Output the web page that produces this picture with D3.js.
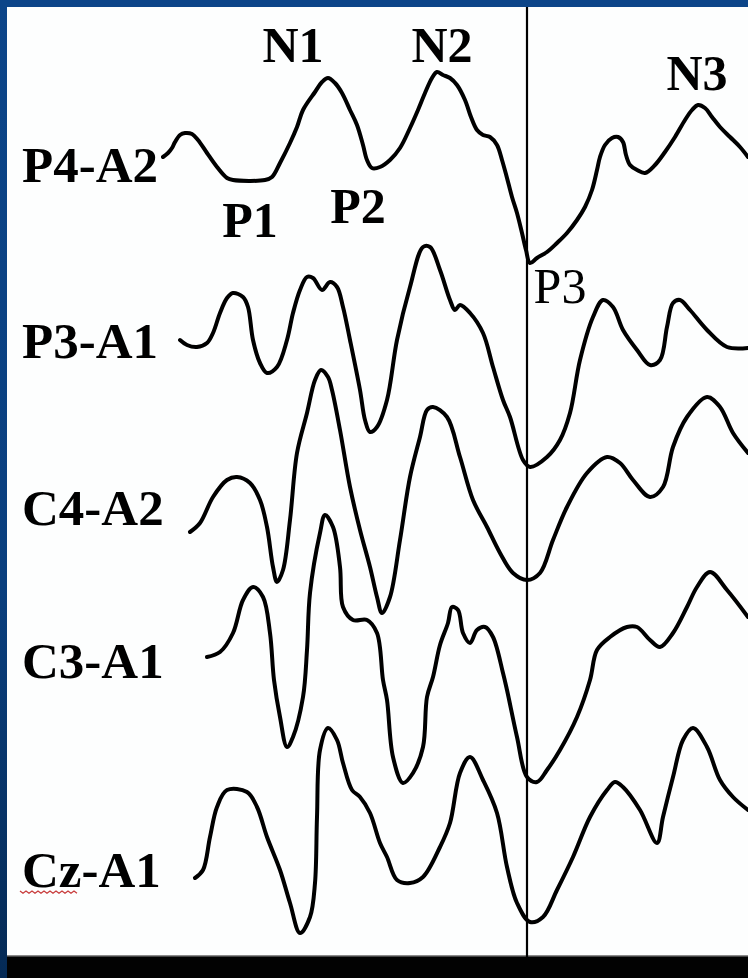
<!DOCTYPE html>
<html>
<head>
<meta charset="utf-8">
<script src="https://cdn.jsdelivr.net/npm/d3@7"></script>
<style>
  html, body { margin: 0; padding: 0; background: #0a3f7e; }
  svg { display: block; }
</style>
</head>
<body>
<svg id="chart" width="748" height="978"></svg>
<script>
// ---------- DATA ----------
const channels = ["P4-A2", "P3-A1", "C4-A2", "C3-A1", "Cz-A1"];

// time (ms) samples and amplitudes (arbitrary units, positive = up) for each channel
const p4a2 = [[6,1.3],[11,1.7],[15,2.2],[18,2.8],[23,3.5],[28,3.7],[35,3.6],[41,3.0],[50,1.7],[60,0.3],[70,-0.8],[76,-1.0],[108,-1.0],[115,-0.7],[123,0.7],[133,2.7],[140,4.3],[146,6.0],[158,7.8],[165,8.8],[171,9.2],[178,8.7],[185,7.7],[193,6.0],[200,4.5],[206,2.5],[210,1.0],[215,0.2],[223,0.3],[233,1.0],[243,2.2],[253,4.2],[261,6.0],[268,7.7],[275,9.2],[280,9.8],[286,9.5],[293,9.2],[300,8.5],[308,7.0],[314,5.3],[320,4.0],[326,3.5],[333,3.3],[340,2.5],[345,1.0],[350,-0.8],[355,-2.7],[360,-4.3],[365,-6.3],[369,-8.0],[373,-9.3],[380,-8.8],[390,-8.2],[400,-7.3],[410,-6.3],[420,-5.0],[428,-3.7],[435,-2.0],[440,0.0],[443,1.3],[448,2.5],[455,3.2],[461,3.3],[466,2.8],[469,1.5],[473,0.5],[480,0.0],[488,-0.3],[498,0.5],[508,1.8],[518,3.3],[528,5.0],[535,6.0],[541,6.5],[548,6.2],[555,5.3],[563,4.3],[573,3.3],[583,2.3],[591,1.3]];

const p3a1 = [[23,-0.5],[30,-1.0],[40,-1.2],[50,-0.8],[56,0.2],[63,2.2],[70,3.7],[76,4.2],[86,3.8],[91,2.8],[96,-0.5],[103,-2.8],[110,-3.8],[120,-3.2],[130,-0.5],[136,2.2],[143,4.5],[150,5.8],[156,5.7],[165,4.5],[173,5.3],[180,4.8],[186,2.8],[193,-0.5],[203,-5.5],[208,-8.5],[213,-9.7],[220,-9.2],[230,-6.5],[240,-0.5],[253,4.8],[266,8.8],[273,8.8],[283,6.5],[293,3.5],[298,2.5],[303,3.0],[313,2.2],[326,0.2],[336,-3.2],[346,-6.5],[353,-8.2],[366,-12.5],[373,-13.2],[390,-12.2],[403,-10.5],[413,-7.8],[423,-2.5],[436,1.8],[446,3.5],[456,2.8],[466,0.5],[480,-1.5],[493,-3.0],[503,-2.5],[510,0.8],[516,3.2],[523,3.5],[533,2.5],[550,0.5],[570,-1.2],[591,-1.3]];

const c4a2 = [[33,-3.2],[43,-2.3],[56,0.3],[70,2.0],[80,2.3],[93,1.7],[103,0.0],[110,-2.7],[116,-6.7],[120,-8.2],[126,-7.0],[133,-2.0],[140,4.7],[150,8.7],[158,12.0],[164,13.0],[171,12.3],[175,11.0],[183,7.0],[193,1.3],[203,-3.0],[213,-6.7],[220,-9.7],[225,-11.3],[233,-9.7],[243,-4.0],[253,2.3],[263,6.3],[270,9.0],[276,9.3],[290,8.3],[303,4.3],[316,0.0],[330,-2.7],[343,-5.3],[356,-7.3],[370,-8.0],[383,-7.3],[396,-4.0],[410,-0.7],[430,2.7],[450,4.3],[463,3.7],[476,2.0],[493,0.3],[506,1.3],[516,5.3],[530,8.3],[550,10.3],[563,9.3],[576,6.7],[591,4.7]];

const c3a1 = [[50,0.8],[63,1.3],[76,3.2],[86,6.5],[96,7.8],[106,6.8],[113,3.2],[117,-1.5],[123,-5.2],[130,-8.2],[136,-7.2],[146,-3.2],[150,1.5],[153,7.2],[163,13.2],[168,15.0],[176,13.8],[183,9.8],[186,5.8],[196,4.5],[210,4.5],[220,3.2],[226,-1.5],[230,-3.5],[236,-9.2],[246,-11.8],[256,-10.8],[266,-8.2],[270,-3.2],[276,-1.2],[283,2.0],[291,4.2],[295,5.8],[301,5.5],[306,3.2],[313,2.2],[320,3.5],[328,3.8],[336,2.8],[346,-0.8],[350,-2.5],[360,-7.2],[370,-11.2],[380,-11.7],[390,-10.5],[403,-8.5],[420,-5.2],[433,-1.5],[440,1.5],[453,2.8],[470,3.8],[480,3.8],[493,2.5],[503,1.8],[516,3.2],[530,5.8],[540,7.8],[553,9.3],[570,7.5],[591,4.8]];

const cza1 = [[38,-4.8],[46,-4.0],[53,-0.7],[60,2.3],[70,4.0],[90,3.8],[100,2.3],[110,-0.7],[123,-4.0],[133,-7.3],[143,-10.3],[153,-8.7],[158,-5.3],[160,1.3],[163,8.0],[171,10.2],[180,9.0],[186,6.7],[195,4.0],[203,3.3],[213,1.7],[223,-1.3],[230,-2.7],[240,-5.0],[253,-5.3],[266,-4.7],[283,-1.7],[293,0.7],[303,5.7],[313,7.3],[326,5.0],[340,1.7],[350,-3.7],[360,-7.3],[373,-9.2],[386,-8.7],[400,-6.0],[416,-2.7],[433,1.3],[450,4.0],[458,4.8],[466,4.3],[483,2.0],[500,-1.3],[506,1.3],[516,5.3],[526,9.0],[536,10.2],[550,8.3],[563,5.0],[576,3.3],[591,2.0]];

const series = [p4a2, p3a1, c4a2, c3a1, cza1];

// component labels (text, time, amplitude on the top channel, bold?)
const peakNames  = ["N1", "N2", "N3", "P1", "P2", "P3"];
const peakTimes  = [136, 285, 540, 93, 201, 403];
const peakAmps   = [10.8, 10.8, 8.0, -6.7, -5.3, -13.3];
const peakBold   = [true, true, true, true, true, false];

const markerTime = 370; // vertical reference line (ms)

// ---------- LAYOUT ----------
const W = 748, H = 978;
const panel = { x: 7, y: 7, right: 748, bottom: 955 };
const labelOffsets = [1.2, 2.3, 2.5, 1.3, 5.7]; // channel label baseline, in amplitude units below trace centre

const svg = d3.select("#chart");

// background (blue slide frame)
const defs = svg.append("defs");
const grad = defs.append("linearGradient").attr("id", "bg").attr("x1", 0).attr("y1", 0).attr("x2", 0).attr("y2", 1);
grad.append("stop").attr("offset", "0%").attr("stop-color", "#0c4589");
grad.append("stop").attr("offset", "60%").attr("stop-color", "#0a3f7e");
grad.append("stop").attr("offset", "100%").attr("stop-color", "#052a55");
svg.append("rect").attr("width", W).attr("height", H).attr("fill", "url(#bg)");

// white panel
svg.append("rect").attr("x", panel.x).attr("y", panel.y)
  .attr("width", panel.right - panel.x).attr("height", panel.bottom - panel.y)
  .attr("fill", "#fdfefe");
// gray rule + black bar at bottom
svg.append("rect").attr("x", panel.x).attr("y", panel.bottom)
  .attr("width", panel.right - panel.x).attr("height", 2).attr("fill", "#8a8a8a");
svg.append("rect").attr("x", panel.x).attr("y", panel.bottom + 1.5)
  .attr("width", panel.right - panel.x).attr("height", H - panel.bottom).attr("fill", "#020202");

// scales
const x = d3.scaleLinear().domain([0, 591]).range([157, 748]);
const yBase = d3.scalePoint().domain(channels).range([170, 830]);
const amp = d3.scaleLinear().domain([-10, 10]).range([100, -100]); // offset from channel baseline

// vertical marker line
svg.append("line")
  .attr("x1", x(markerTime)).attr("x2", x(markerTime))
  .attr("y1", panel.y).attr("y2", panel.bottom + 2)
  .attr("stroke", "#000").attr("stroke-width", 2.2);

defs.append("clipPath").attr("id", "clip").append("rect")
  .attr("x", panel.x).attr("y", panel.y).attr("width", panel.right - panel.x).attr("height", panel.bottom - panel.y);
const g = svg.append("g").attr("clip-path", "url(#clip)");

channels.forEach((ch, i) => {
  const line = d3.line()
    .x(d => x(d[0]))
    .y(d => yBase(ch) + amp(d[1]))
    .curve(d3.curveCatmullRom.alpha(0.5));
  g.append("path")
    .datum(series[i])
    .attr("d", line)
    .attr("fill", "none")
    .attr("stroke", "#000")
    .attr("stroke-width", 4)
    .attr("stroke-linejoin", "round")
    .attr("stroke-linecap", "round");
});

// channel labels
const font = "'Liberation Serif', 'Times New Roman', serif";
channels.forEach((ch, i) => {
  svg.append("text")
    .attr("x", 22)
    .attr("y", yBase(ch) + amp(-labelOffsets[i]))
    .attr("font-family", font)
    .attr("font-weight", "bold")
    .attr("font-size", 51)
    .attr("fill", "#000")
    .text(ch);
});

// spell-check squiggle under "Cz"
{
  const yq = yBase("Cz-A1") + amp(-labelOffsets[4]) + 4;
  let d = "M20," + yq;
  for (let k = 1; k <= 19; k++) d += " L" + (20 + k * 3) + "," + (yq + (k % 2 ? 2.2 : 0));
  svg.append("path").attr("d", d).attr("fill", "none").attr("stroke", "#c83c3c").attr("stroke-width", 1.3);
}

// component labels on the top trace
peakNames.forEach((n, i) => {
  svg.append("text")
    .attr("x", x(peakTimes[i]))
    .attr("y", yBase(channels[0]) + amp(peakAmps[i]))
    .attr("text-anchor", "middle")
    .attr("font-family", font)
    .attr("font-weight", peakBold[i] ? "bold" : "normal")
    .attr("font-size", 50)
    .attr("fill", "#000")
    .text(n);
});
</script>
</body>
</html>
